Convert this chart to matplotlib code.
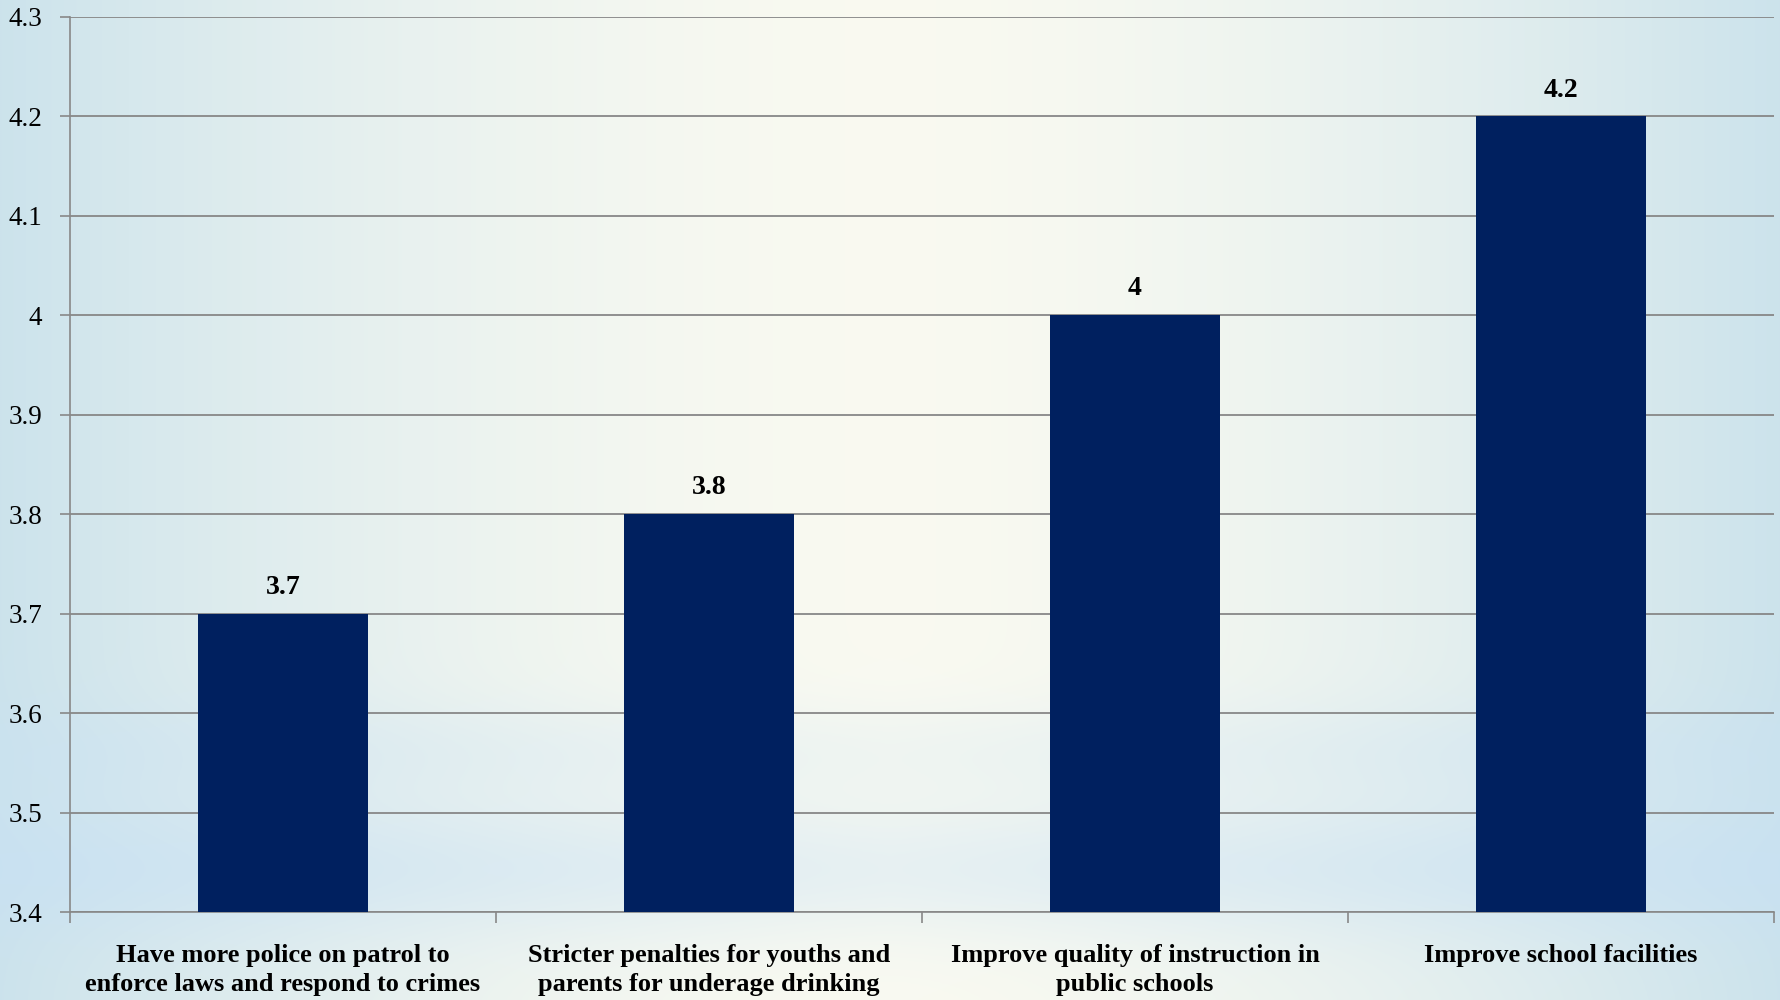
import numpy as np
import matplotlib
matplotlib.use("Agg")
import matplotlib.pyplot as plt
from matplotlib.ticker import FixedLocator

categories = [
    "Have more police on patrol to\nenforce laws and respond to crimes",
    "Stricter penalties for youths and\nparents for underage drinking",
    "Improve quality of instruction in\npublic schools",
    "Improve school facilities",
]
values = [3.7, 3.8, 4.0, 4.2]
value_labels = ["3.7", "3.8", "4", "4.2"]
y_ticks = [3.4, 3.5, 3.6, 3.7, 3.8, 3.9, 4.0, 4.1, 4.2, 4.3]
y_tick_labels = ["3.4", "3.5", "3.6", "3.7", "3.8", "3.9", "4", "4.1", "4.2", "4.3"]

plt.rcParams["font.family"] = ["Liberation Serif", "DejaVu Serif"]

fig = plt.figure(figsize=(17.81, 10), dpi=100)

# background: pale centre, light blue edges, bluish band near bottom
bg = fig.add_axes([0, 0, 1, 1], zorder=0)
h, w = 500, 890
xx, yy = np.meshgrid(np.linspace(-1, 1, w), np.linspace(0, 1, h))
centre = np.array([0.978, 0.98, 0.945])
edge = np.array([0.80, 0.89, 0.925])
band = np.array([0.78, 0.88, 0.96])
t = np.clip(np.abs(xx) ** 1.6, 0, 1)[..., None]
img = centre * (1 - t) + edge * t
# bottom blue band (yy=1 is bottom with origin upper)
b = np.exp(-((yy - 0.87) / 0.07) ** 2) * 0.6 + np.exp(-((yy - 0.75) / 0.05) ** 2) * 0.3
b = b * (0.6 + 0.4 * np.abs(xx))
img = img * (1 - b[..., None]) + band * b[..., None]
bg.imshow(img, aspect="auto", extent=[0, 1, 0, 1], origin="upper")
bg.set_axis_off()

ax = fig.add_axes([70 / 1781, 0.088, (1774 - 70) / 1781, 0.983 - 0.088], zorder=1)
ax.patch.set_alpha(0)

x = np.arange(len(categories))
bars = ax.bar(x, values, width=0.4, color="#00205f", zorder=3, bottom=0)
ax.set_ylim(3.4, 4.3)
ax.set_xlim(-0.5, len(categories) - 0.5)

for xi, v, lab in zip(x, values, value_labels):
    ax.annotate(lab, (xi, v), xytext=(0, 10), textcoords="offset points",
                ha="center", va="bottom", fontsize=20, fontweight="bold")

ax.set_yticks(y_ticks)
ax.set_yticklabels(y_tick_labels, fontsize=19.5)
ax.set_xticks(x)
ax.set_xticklabels(categories, fontsize=19, fontweight="bold", linespacing=1.36)
ax.xaxis.set_minor_locator(FixedLocator(np.arange(-0.5, len(categories), 1.0)))
ax.tick_params(axis="x", which="major", length=0, pad=23)
ax.tick_params(axis="x", which="minor", length=8, color="#888888", width=1.2)
ax.tick_params(axis="y", length=7, color="#888888", width=1.2, pad=13)

ax.grid(axis="y", color="#878787", linewidth=1.3, zorder=1)
ax.set_axisbelow(True)
for s in ["top", "right"]:
    ax.spines[s].set_visible(False)
for s in ["left", "bottom"]:
    ax.spines[s].set_color("#888888")
    ax.spines[s].set_linewidth(1.2)

fig.savefig("out.png", dpi=100)
